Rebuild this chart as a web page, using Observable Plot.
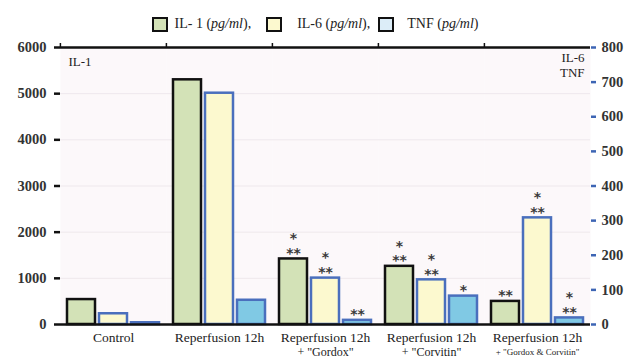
<!DOCTYPE html>
<html>
<head>
<meta charset="utf-8">
<script src="https://cdn.jsdelivr.net/npm/d3@7"></script>
<script src="https://cdn.jsdelivr.net/npm/@observablehq/plot@0.6"></script>
<style>
  html, body { margin: 0; padding: 0; background: #fff; }
  body { width: 630px; height: 358px; overflow: hidden; font-family: "Liberation Serif", "Times New Roman", serif; color: #222; }
  #legend { height: 38px; display: flex; align-items: center; justify-content: center; font-size: 14px; box-sizing: border-box; padding-top: 10px; }
  .sw { width: 12px; height: 11px; border: 2.5px solid #111; display: inline-block; }
  .it { font-style: italic; }
</style>
</head>
<body>
<div id="legend"></div>
<div id="chart"></div>
<script>
// ---- data ----
const series = ["IL-1", "IL-6", "TNF"];
const categories = ["Control", "Reperfusion 12h", "Reperfusion 12h + \"Gordox\"", "Reperfusion 12h + \"Corvitin\"", "Reperfusion 12h + \"Gordox & Corvitin\""];
const catLine1 = ["Control", "Reperfusion 12h", "Reperfusion 12h", "Reperfusion 12h", "Reperfusion 12h"];
const catLine2 = ["", "", "+ \"Gordox\"", "+ \"Corvitin\"", "+ \"Gordox & Corvitin\""];
const il1 = [540, 5300, 1420, 1260, 500];        // left axis, pg/ml
const il6 = [31, 668, 134, 129, 308];            // right axis, pg/ml
const tnf = [5, 70, 12, 82, 19];                 // right axis, pg/ml
const il1Sig = ["", "", "*\n**", "*\n**", "**"];
const il6Sig = ["", "", "*\n**", "*\n**", "*\n**"];
const tnfSig = ["", "", "**", "*", "*\n**"];
const leftTicks = [0, 1000, 2000, 3000, 4000, 5000, 6000];
const rightTicks = [0, 100, 200, 300, 400, 500, 600, 700, 800];
const legendLabels = ["IL- 1 ", "IL-6 ", "TNF "];

// ---- build ----
const k = 6000 / 800; // right-axis values drawn on the left-axis scale
const fills = {"IL-1": "#d3e2b7", "IL-6": "#fcf9cf", "TNF": "#80c9e4"};
const strokes = {"IL-1": "#111", "IL-6": "#4a6fbd", "TNF": "#4a6fbd"};
const legendFills = ["#d3e2b7", "#fcf9cf", "#dcedf8"];
const blue = "#3d65b4";
const font = "Liberation Serif";

const rows = categories.flatMap((c, i) => [
  {cat: c, series: "IL-1", y: il1[i], sig: il1Sig[i]},
  {cat: c, series: "IL-6", y: il6[i] * k, sig: il6Sig[i]},
  {cat: c, series: "TNF", y: tnf[i] * k, sig: tnfSig[i]}
]);
const cats = categories.map((c, i) => ({cat: c, l1: catLine1[i], l2: catLine2[i], small: i === 4}));

// legend
const lg = document.getElementById("legend");
const gaps = [["0", "7px"], ["15px", "15px"], ["8px", "13px"]];
series.forEach((s, i) => {
  const sw = document.createElement("span");
  sw.className = "sw";
  sw.style.background = legendFills[i];
  sw.style.marginLeft = gaps[i][0];
  sw.style.marginRight = gaps[i][1];
  lg.appendChild(sw);
  const t = document.createElement("span");
  t.innerHTML = legendLabels[i] + "(<span class='it'>pg/ml</span>)" + (i < 2 ? "," : "");
  lg.appendChild(t);
});

const chart = Plot.plot({
  width: 630,
  height: 320,
  marginTop: 9,
  marginBottom: 34,
  marginLeft: 59,
  marginRight: 40,
  style: {fontFamily: font, background: "transparent", overflow: "visible"},
  fx: {domain: categories, padding: 0, axis: null, label: null},
  x: {domain: series, paddingInner: 0.11, paddingOuter: 0.2, axis: null},
  y: {domain: [0, 6000], axis: null, label: null},
  marks: [
    Plot.frame({fill: "#fcf8fa", stroke: null}),
    Plot.gridY(leftTicks.slice(1, -1), {stroke: "#eee8ec", strokeOpacity: 1}),
    ...series.map(s => Plot.barY(rows.filter(d => d.series === s), {
      fx: "cat", x: "series", y: "y", fill: fills[s], stroke: strokes[s], strokeWidth: 2.5
    })),
    Plot.text(rows.filter(d => d.sig), {
      fx: "cat", x: "series", y: "y", text: "sig", lineAnchor: "bottom", dy: -1,
      fontSize: 14, lineHeight: 1.05, fontWeight: "bold", fill: "#3a3a3a", fontFamily: "DejaVu Sans"
    }),
    Plot.ruleY([6000], {stroke: "#111", strokeWidth: 2.5}),
    Plot.ruleY([0], {stroke: "#111", strokeWidth: 2.5}),
    Plot.axisFx({tickSize: 5, tickFormat: () => "", label: null, dx: -53.1, stroke: "#111", strokeWidth: 1.5}),
    Plot.axisY({anchor: "left", ticks: leftTicks, tickFormat: d3.format("d"), label: null, tickSize: 6, tickPadding: 8, line: true,
      stroke: "#111", strokeWidth: 2.5, fill: "#333", fontSize: 14.5, fontWeight: "bold", fontFamily: font}),
    Plot.axisY({anchor: "right", ticks: rightTicks.map(v => v * k), tickFormat: d => String(Math.round(d / k)), label: null,
      tickSize: 5, tickPadding: 6, line: true, stroke: blue, strokeWidth: 2.5, fill: "#333",
      fontSize: 14.5, fontWeight: "bold", fontFamily: font}),
    Plot.text(cats, {fx: "cat", text: "l1", frameAnchor: "bottom", lineAnchor: "middle", dy: 13,
      fontSize: 13.5, fill: "#222", fontFamily: font}),
    Plot.text(cats.filter(d => d.l2 && !d.small), {fx: "cat", text: "l2", frameAnchor: "bottom", lineAnchor: "middle", dy: 28,
      fontSize: 12, fill: "#222", fontFamily: font}),
    Plot.text(cats.filter(d => d.small), {fx: "cat", text: "l2", frameAnchor: "bottom", lineAnchor: "middle", dy: 28,
      fontSize: 9, fill: "#222", fontFamily: font}),
    Plot.text([{cat: categories[0], t: "IL-1"}], {fx: "cat", text: "t", frameAnchor: "top-left", textAnchor: "start",
      lineAnchor: "top", dx: 8, dy: 9, fontSize: 13, fill: "#222", fontFamily: font}),
    Plot.text([{cat: categories[4], t: "IL-6\nTNF"}], {fx: "cat", text: "t", frameAnchor: "top-right", textAnchor: "end",
      lineAnchor: "top", dx: -6, dy: 3, fontSize: 13, lineHeight: 1.2, fill: "#222", fontFamily: font})
  ]
});
document.getElementById("chart").appendChild(chart);
</script>
</body>
</html>
